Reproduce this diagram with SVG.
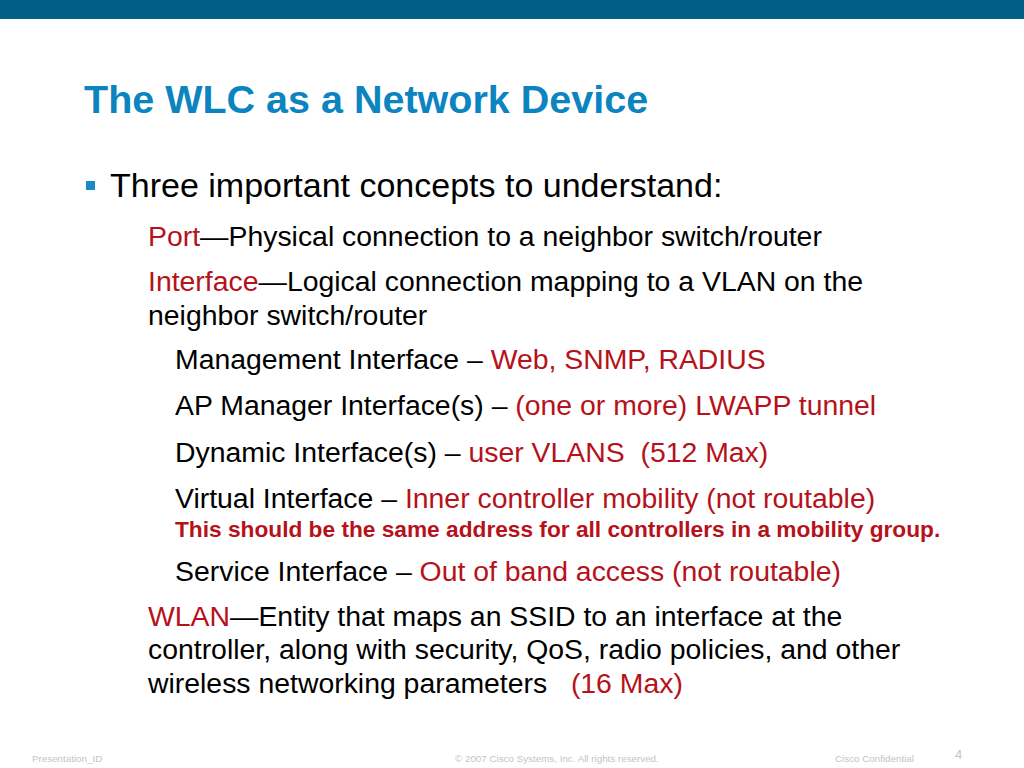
<svg xmlns="http://www.w3.org/2000/svg" width="1024" height="768" viewBox="0 0 1024 768">
<style>
text{font-family:"Liberation Sans",Arial,sans-serif;fill:#000}
.r{fill:#b5121b}
.b{font-size:28.4px}
.f{font-size:9.8px;fill:#c4c4c4}
</style>
<rect width="1024" height="768" fill="#fff"/>
<rect width="1024" height="19" fill="#005f87"/>
<text x="84" y="113" font-size="39.5" font-weight="bold" style="fill:#0b84c0">The WLC as a Network Device</text>
<rect x="86" y="181" width="9" height="9" fill="#1a8ac6"/>
<text x="110" y="197" font-size="34">Three important concepts to understand:</text>
<text class="b" x="148" y="246"><tspan class="r">Port</tspan>—Physical connection to a neighbor switch/router</text>
<text class="b" x="148" y="291"><tspan class="r">Interface</tspan>—Logical connection mapping to a VLAN on the</text>
<text class="b" x="148" y="325">neighbor switch/router</text>
<text class="b" x="175" y="369">Management Interface – <tspan class="r">Web, SNMP, RADIUS</tspan></text>
<text class="b" x="175" y="415">AP Manager Interface(s) – <tspan class="r">(one or more) LWAPP tunnel</tspan></text>
<text class="b" x="175" y="462" xml:space="preserve">Dynamic Interface(s) – <tspan class="r">user VLANS  (512 Max)</tspan></text>
<text class="b" x="175" y="508">Virtual Interface – <tspan class="r">Inner controller mobility (not routable)</tspan></text>
<text x="175" y="537" font-size="22.7" font-weight="bold" class="r">This should be the same address for all controllers in a mobility group.</text>
<text class="b" x="175" y="581">Service Interface – <tspan class="r">Out of band access (not routable)</tspan></text>
<text class="b" x="148" y="626"><tspan class="r">WLAN</tspan>—Entity that maps an SSID to an interface at the</text>
<text class="b" x="148" y="659">controller, along with security, QoS, radio policies, and other</text>
<text class="b" x="148" y="693" xml:space="preserve">wireless networking parameters   <tspan class="r">(16 Max)</tspan></text>
<text class="f" x="32" y="762">Presentation_ID</text>
<text class="f" x="455" y="762">© 2007 Cisco Systems, Inc. All rights reserved.</text>
<text class="f" x="835" y="762">Cisco Confidential</text>
<text x="955" y="759" font-size="13" style="fill:#c4c4c4">4</text>
</svg>
